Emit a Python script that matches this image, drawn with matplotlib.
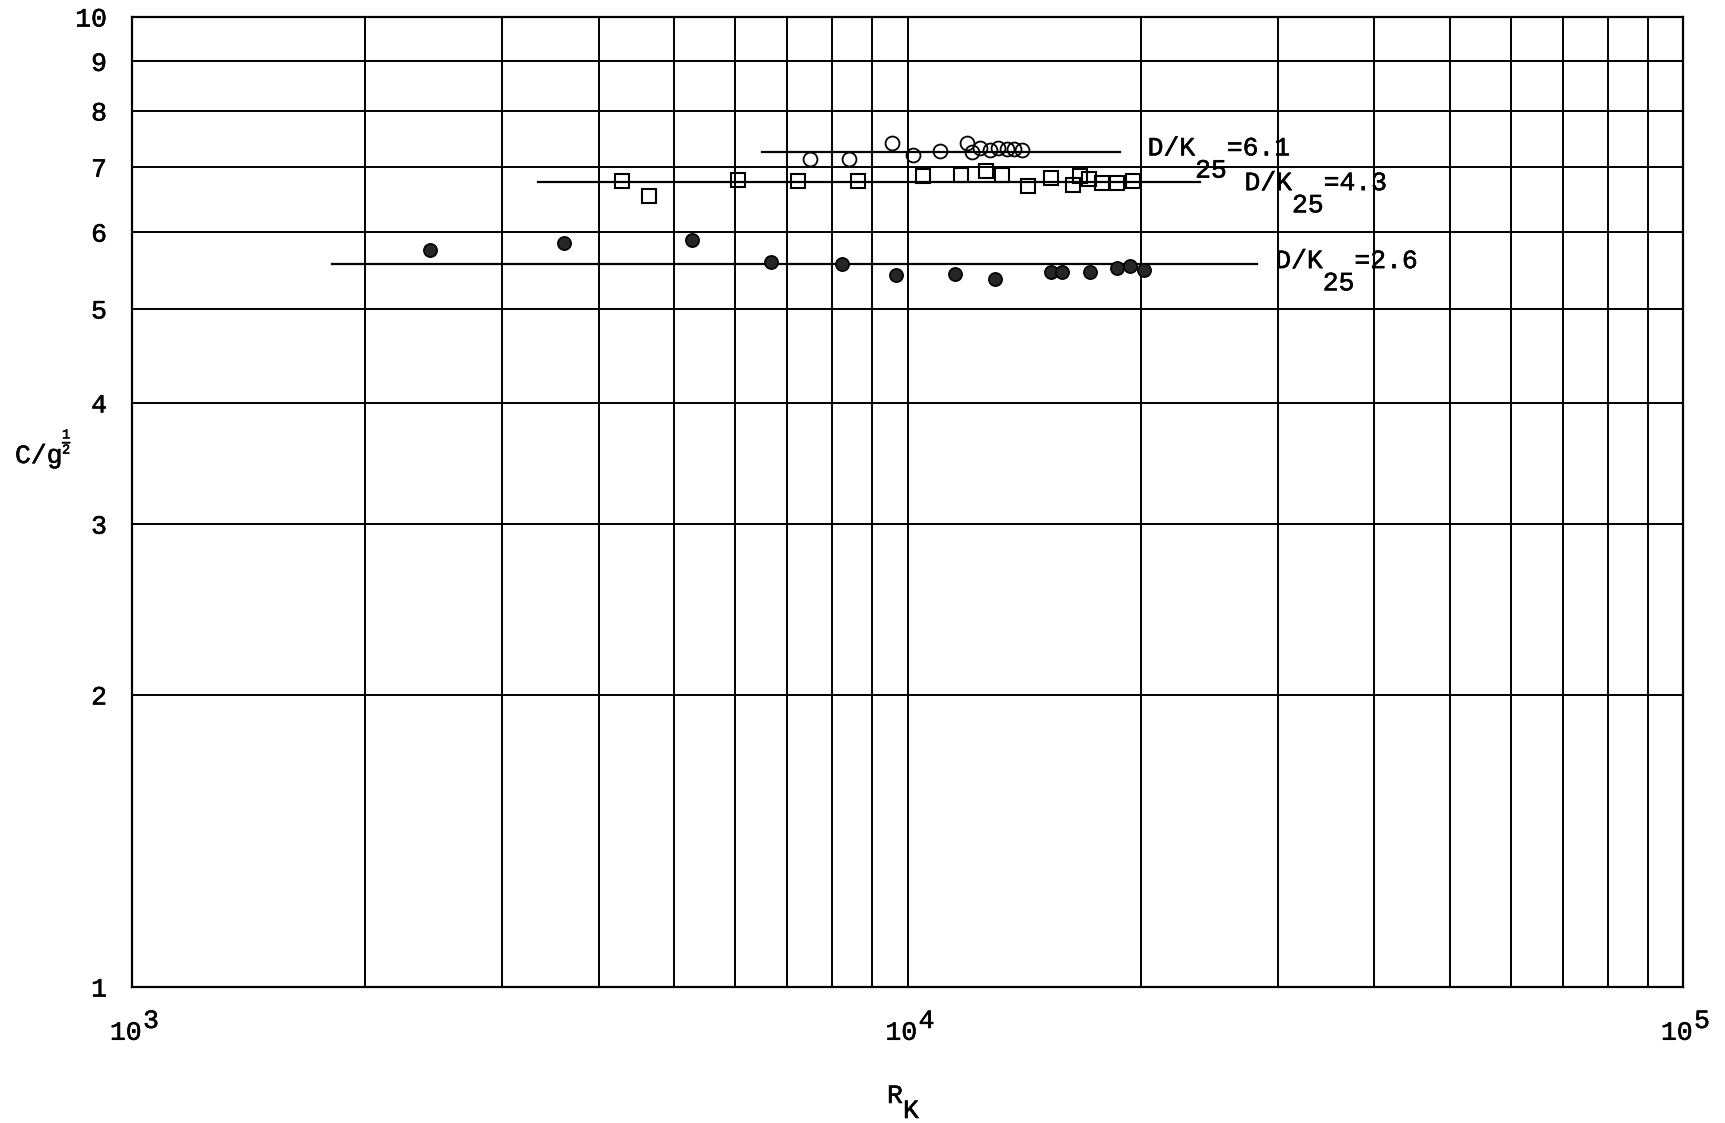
import matplotlib

matplotlib.use("Agg")

import matplotlib.pyplot as plt
import matplotlib.patheffects as pe
import matplotlib.transforms as mtransforms
from matplotlib.ticker import FixedLocator, NullFormatter, NullLocator

W, H = 1725, 1123
FONT = "Liberation Mono"
FS = 19
CW = 0.6 * FS  # width of one typewriter character, in points
INK = [pe.withStroke(linewidth=0.4, foreground="black")]  # slightly heavier typewriter strokes

plt.rcParams["font.family"] = FONT
plt.rcParams["mathtext.fontset"] = "custom"
plt.rcParams["mathtext.rm"] = FONT
plt.rcParams["mathtext.it"] = FONT
plt.rcParams["mathtext.bf"] = FONT

# D/K25 = 6.1  (open circles)
R_61 = [7490, 8410, 9540, 10170, 11010, 11920, 12100, 12400, 12780, 13100, 13430, 13720, 14040]
C_61 = [7.14, 7.14, 7.42, 7.21, 7.27, 7.42, 7.26, 7.32, 7.29, 7.32, 7.31, 7.31, 7.29]

# D/K25 = 4.3  (squares)
R_43 = [4290, 4645, 6040, 7220, 8640, 10460, 11710, 12620, 13230, 14310, 15300,
        16350, 16700, 17150, 17800, 18610, 19520]
C_43 = [6.78, 6.54, 6.79, 6.78, 6.77, 6.85, 6.87, 6.93, 6.88, 6.70, 6.82,
        6.71, 6.85, 6.80, 6.74, 6.74, 6.78]

# D/K25 = 2.6  (filled circles)
R_26 = [2420, 3610, 5280, 6660, 8225, 9656, 11515, 12965, 15320, 15800, 17200, 18600, 19360, 20200]
C_26 = [5.75, 5.845, 5.89, 5.595, 5.56, 5.42, 5.43, 5.365, 5.465, 5.465, 5.46, 5.51, 5.54, 5.48]

# mean lines drawn through each set
FIT_LEVEL = [7.26, 6.765, 5.57]
FIT_START = [6490, 3340, 1810]
FIT_END = [18800, 23800, 28200]

CURVE_NAMES = ["6.1", "4.3", "2.6"]
LABEL_R = [20400, 27200, 29800]
LABEL_C = [7.2, 6.63, 5.51]

Y_TICKS = [1, 2, 3, 4, 5, 6, 7, 8, 9, 10]
X_DECADES = [3, 4, 5]


def offset(base, dx, dy):
    return mtransforms.offset_copy(base, fig=fig, x=dx, y=dy, units="points")


def fig_text(x_px, y_px, s, **kw):
    kw.setdefault("fontsize", FS)
    kw.setdefault("va", "baseline")
    fig.text(x_px / W, 1 - y_px / H, s, path_effects=INK, **kw)


fig = plt.figure(figsize=(W / 100, H / 100), dpi=100)
fig.patch.set_facecolor("white")
ax = fig.add_axes([132 / W, 1 - 987 / H, (1683 - 132) / W, (987 - 17) / H])
ax.set_xscale("log")
ax.set_yscale("log")
ax.set_xlim(1e3, 1e5)
ax.set_ylim(1, 10)

# graph-paper grid
ax.xaxis.set_major_locator(FixedLocator([10.0 ** d for d in X_DECADES]))
ax.xaxis.set_minor_locator(FixedLocator([m * 10.0 ** d for d in X_DECADES[:-1] for m in range(2, 10)]))
ax.xaxis.set_major_formatter(NullFormatter())
ax.xaxis.set_minor_formatter(NullFormatter())
ax.yaxis.set_major_locator(FixedLocator(Y_TICKS))
ax.yaxis.set_minor_locator(NullLocator())
ax.set_yticklabels([str(v) for v in Y_TICKS], fontsize=FS, path_effects=INK)
for lbl in ax.get_yticklabels():
    lbl.set_transform(lbl.get_transform() + mtransforms.ScaledTranslation(0, -3 / 72, fig.dpi_scale_trans))
ax.tick_params(which="both", length=0)
ax.tick_params(axis="y", pad=18)
ax.grid(which="both", color="black", lw=1.4)
ax.set_axisbelow(True)
for sp in ax.spines.values():
    sp.set_linewidth(1.6)

# mean lines
for level, r0, r1 in zip(FIT_LEVEL, FIT_START, FIT_END):
    ax.plot([r0, r1], [level, level], color="black", lw=1.6, zorder=3)

ax.plot(R_61, C_61, ls="none", marker="o", ms=10, mfc="none", mec="black", mew=1.3, zorder=4)
ax.plot(R_43, C_43, ls="none", marker="s", ms=10.5, mfc="none", mec="black", mew=1.5, zorder=4)
ax.plot(R_26, C_26, ls="none", marker="o", ms=9.5, mfc="#262626", mec="black", mew=1.2, zorder=4)

# curve labels, typed with the "25" dropped below the line
for name, r, c in zip(CURVE_NAMES, LABEL_R, LABEL_C):
    ax.text(r, c, "D/K", fontsize=FS, va="baseline", ha="left", path_effects=INK)
    ax.text(r, c, "25", fontsize=FS, va="baseline", ha="left", path_effects=INK,
            transform=offset(ax.transData, 3 * CW, -16))
    ax.text(r, c, "=" + name, fontsize=FS, va="baseline", ha="left", path_effects=INK,
            transform=offset(ax.transData, 5 * CW, 0))

# x decade labels 10^3, 10^4, 10^5
xbase = mtransforms.blended_transform_factory(ax.transData, ax.transAxes)
for d in X_DECADES:
    ax.text(10.0 ** d, 0, "10", fontsize=FS, ha="right", va="baseline", path_effects=INK,
            transform=offset(xbase, 7, -38))
    ax.text(10.0 ** d, 0, str(d), fontsize=FS, ha="left", va="baseline", path_effects=INK,
            transform=offset(xbase, 8, -29.5))

# axis titles
fig_text(887, 1103, "R")
fig_text(903, 1118, "K")
fig_text(15, 463, "C/g")
fig_text(62, 442, r"$\frac{1}{2}$", fontsize=14, va="center")

fig.savefig("out.png", dpi=100)
